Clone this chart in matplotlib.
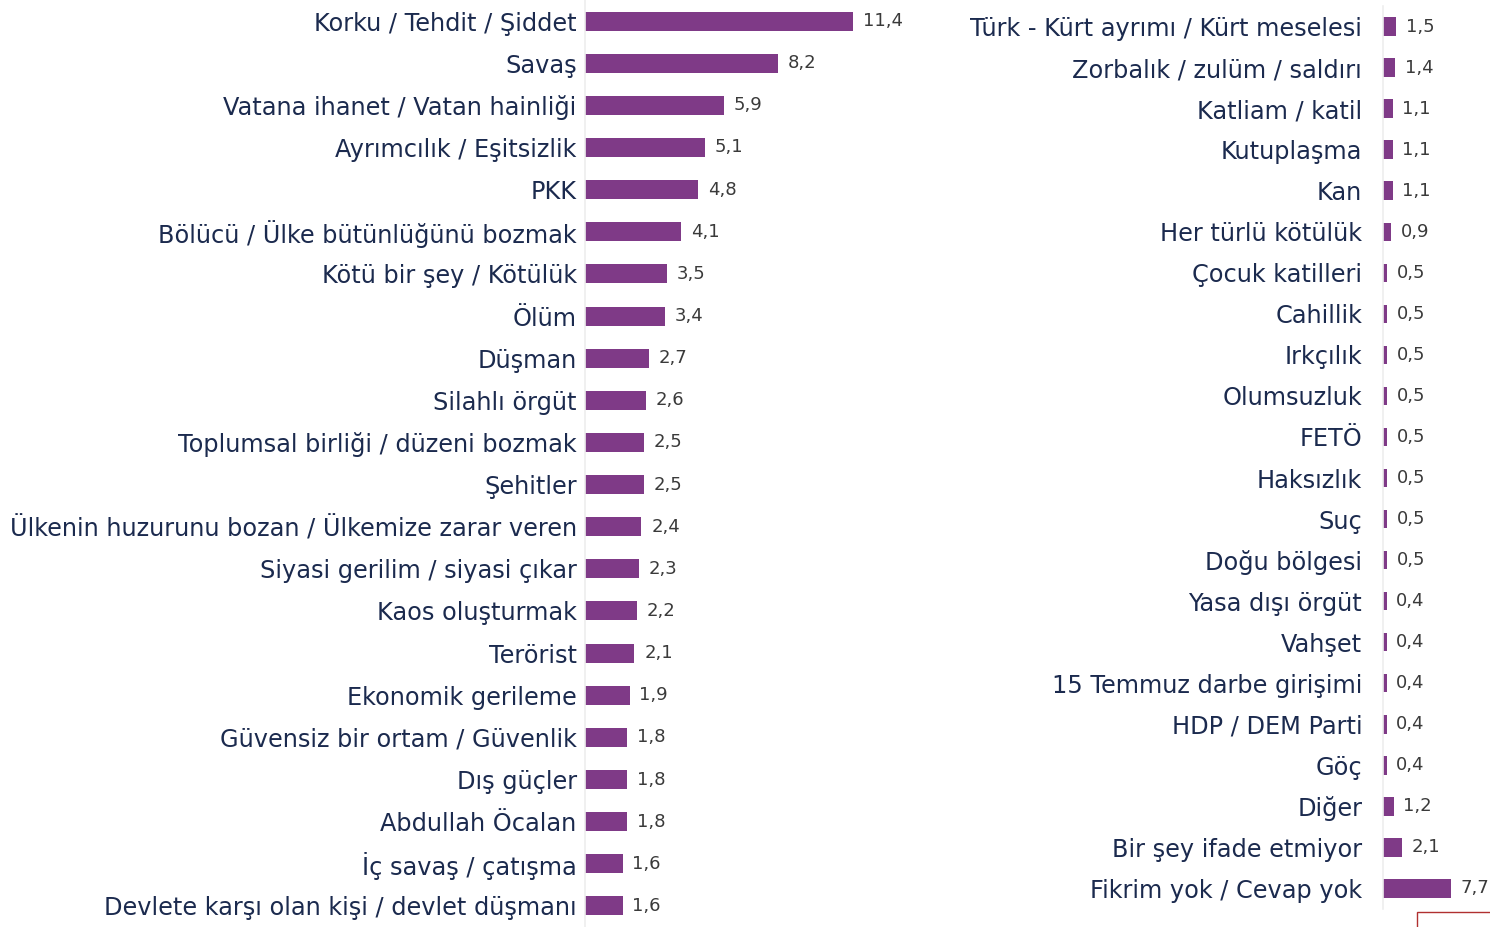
import matplotlib.pyplot as plt
from matplotlib.patches import Rectangle

plt.rcParams['font.family'] = ['DejaVu Sans']

# left panel
left_labels = [
    'Korku / Tehdit / Şiddet', 'Savaş', 'Vatana ihanet / Vatan hainliği',
    'Ayrımcılık / Eşitsizlik', 'PKK', 'Bölücü / Ülke bütünlüğünü bozmak',
    'Kötü bir şey / Kötülük', 'Ölüm', 'Düşman', 'Silahlı örgüt',
    'Toplumsal birliği / düzeni bozmak', 'Şehitler',
    'Ülkenin huzurunu bozan / Ülkemize zarar veren',
    'Siyasi gerilim / siyasi çıkar', 'Kaos oluşturmak', 'Terörist',
    'Ekonomik gerileme', 'Güvensiz bir ortam / Güvenlik', 'Dış güçler',
    'Abdullah Öcalan', 'İç savaş / çatışma', 'Devlete karşı olan kişi / devlet düşmanı',
]
left_values = [11.4, 8.2, 5.9, 5.1, 4.8, 4.1, 3.5, 3.4, 2.7, 2.6, 2.5, 2.5,
               2.4, 2.3, 2.2, 2.1, 1.9, 1.8, 1.8, 1.8, 1.6, 1.6]

# right panel
right_labels = [
    'Türk - Kürt ayrımı / Kürt meselesi', 'Zorbalık / zulüm / saldırı',
    'Katliam / katil', 'Kutuplaşma', 'Kan', 'Her türlü kötülük',
    'Çocuk katilleri', 'Cahillik', 'Irkçılık', 'Olumsuzluk', 'FETÖ',
    'Haksızlık', 'Suç', 'Doğu bölgesi', 'Yasa dışı örgüt', 'Vahşet',
    '15 Temmuz darbe girişimi', 'HDP / DEM Parti', 'Göç', 'Diğer',
    'Bir şey ifade etmiyor', 'Fikrim yok / Cevap yok',
]
right_values = [1.5, 1.4, 1.1, 1.1, 1.1, 0.9, 0.5, 0.5, 0.5, 0.5, 0.5, 0.5,
                0.5, 0.5, 0.4, 0.4, 0.4, 0.4, 0.4, 1.2, 2.1, 7.7]

bar_color = '#7f3a87'
label_color = '#1b2a4e'
value_color = '#3a3a3a'

W, H = 1490, 927
fig = plt.figure(figsize=(W / 100, H / 100), dpi=100)


def panel(rect, labels, values, xmax, pad):
    ax = fig.add_axes(rect)
    y = range(len(values))
    bars = ax.barh(y, values, height=0.45, color=bar_color)
    ax.set_ylim(len(values) - 0.5, -0.5)
    ax.set_xlim(0, xmax)
    ax.set_yticks(list(y), labels, fontsize=17.3, color=label_color)
    ax.tick_params(axis='y', length=0, pad=pad)
    ax.set_xticks([])
    for s in ['top', 'right', 'bottom']:
        ax.spines[s].set_visible(False)
    ax.spines['left'].set_color('#eeeeee')
    ax.spines['left'].set_linewidth(1.2)
    ax.bar_label(bars, labels=[f'{v:.1f}'.replace('.', ',') for v in values],
                 padding=7, fontsize=13, color=value_color)
    ax.set_facecolor('none')
    return ax


panel([585 / W, 0, 320 / W, 1], left_labels, left_values, 13.6, 6)
panel([1383 / W, 18 / H, 107 / W, 903 / H], right_labels, right_values, 12.1, 15)

# small cropped box at bottom right
fig.add_artist(Rectangle((1417 / W, -0.01), 0.06, 24 / H, transform=fig.transFigure,
                         fill=False, edgecolor='#b03030', linewidth=1))

fig.savefig('out.png', dpi=100)
